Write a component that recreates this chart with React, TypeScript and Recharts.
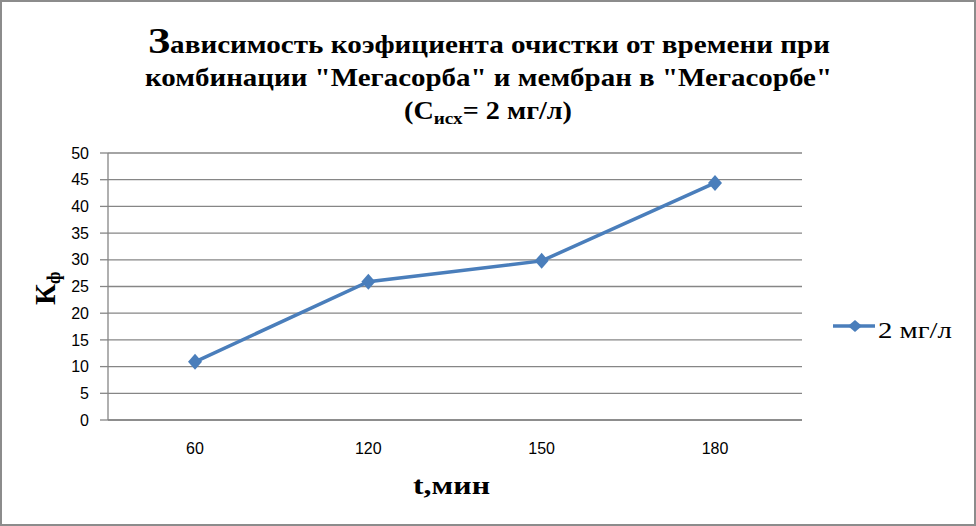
import React from 'react'
import { LineChart, Line, XAxis, YAxis, CartesianGrid } from 'recharts'

const categories = ['60', '120', '150', '180']
const series2mg = [10.9, 25.9, 29.8, 44.4]
const yTicks = [0, 5, 10, 15, 20, 25, 30, 35, 40, 45, 50]

const data = categories.map((t, i) => ({ t, value: series2mg[i] }))

const BLUE = '#4a7ebb'
const GRID = '#868686'
const SERIF = '"Liberation Serif", "Times New Roman", serif'
const SANS = '"Liberation Sans", Arial, sans-serif'

const Diamond = (props: any) => {
  const { cx, cy } = props
  if (cx == null || cy == null) return null
  return (
    <path
      d={`M${cx},${cy - 8} L${cx + 7},${cy} L${cx},${cy + 8} L${cx - 7},${cy} Z`}
      fill={BLUE}
    />
  )
}

export default function App() {
  return (
    <div
      style={{
        position: 'absolute',
        left: 0,
        top: 0,
        width: 976,
        height: 526,
        background: '#fff',
        boxSizing: 'border-box',
        border: '2px solid #8c8c8c',
      }}
    >
      <div style={{ position: 'absolute', left: -2, top: -2 }}>
        <LineChart
          width={976}
          height={526}
          data={data}
          margin={{ top: 153, right: 174, bottom: 0, left: 0 }}
        >
          <CartesianGrid vertical={false} stroke={GRID} strokeWidth={1.3} />
          <XAxis
            dataKey="t"
            height={106}
            padding={{ left: 87, right: 87 }}
            tickLine={false}
            axisLine={{ stroke: GRID, strokeWidth: 1.3 }}
            tickSize={0}
            tickMargin={23}
            tick={{ fill: '#000', fontSize: 16, fontFamily: SANS }}
          />
          <YAxis
            width={108}
            domain={[0, 50]}
            ticks={yTicks}
            interval={0}
            axisLine={{ stroke: GRID, strokeWidth: 1.3 }}
            tickLine={{ stroke: GRID, strokeWidth: 1.3 }}
            tickSize={8}
            tickMargin={11}
            tick={{ fill: '#000', fontSize: 16, fontFamily: SANS }}
          />
          <Line
            type="linear"
            dataKey="value"
            stroke={BLUE}
            strokeWidth={3.5}
            dot={<Diamond />}
            activeDot={false}
            isAnimationActive={false}
          />
        </LineChart>
      </div>

      {/* titles and legend */}
      <svg
        width={976}
        height={526}
        style={{ position: 'absolute', left: -2, top: -2, pointerEvents: 'none' }}
        fontFamily={SERIF}
      >
        <g fontWeight="bold" fill="#000">
          <text x={148} y={53} fontSize={25} textLength={682} lengthAdjust="spacingAndGlyphs">
            <tspan fontSize={36}>З</tspan>ависимость коэфициента очистки от времени при
          </text>
          <text x={145} y={86} fontSize={25} textLength={687} lengthAdjust="spacingAndGlyphs">
            комбинации "Мегасорба" и мембран в "Мегасорбе"
          </text>
          <text x={404} y={119} fontSize={25} textLength={168} lengthAdjust="spacingAndGlyphs">
            (С<tspan fontSize={17} dy={5}>исх</tspan>
            <tspan dy={-5}>= 2 мг/л)</tspan>
          </text>
          <text x={413} y={494} fontSize={25} textLength={77} lengthAdjust="spacingAndGlyphs">
            t,мин
          </text>
          {/* vertical axis title, glyphs turned to read bottom to top */}
          <text x={55} y={305} fontSize={29} rotate="-90">
            К
          </text>
          <text x={60} y={284} fontSize={18} rotate="-90">
            ф
          </text>
        </g>
        <line x1={833} y1={326} x2={875} y2={326} stroke={BLUE} strokeWidth={3.5} />
        <path d="M855,320 L862,326 L855,332 L848,326 Z" fill={BLUE} />
        <text x={878} y={338} fontSize={22.5} textLength={74} lengthAdjust="spacingAndGlyphs" fill="#000">
          2 мг/л
        </text>
      </svg>
    </div>
  )
}
